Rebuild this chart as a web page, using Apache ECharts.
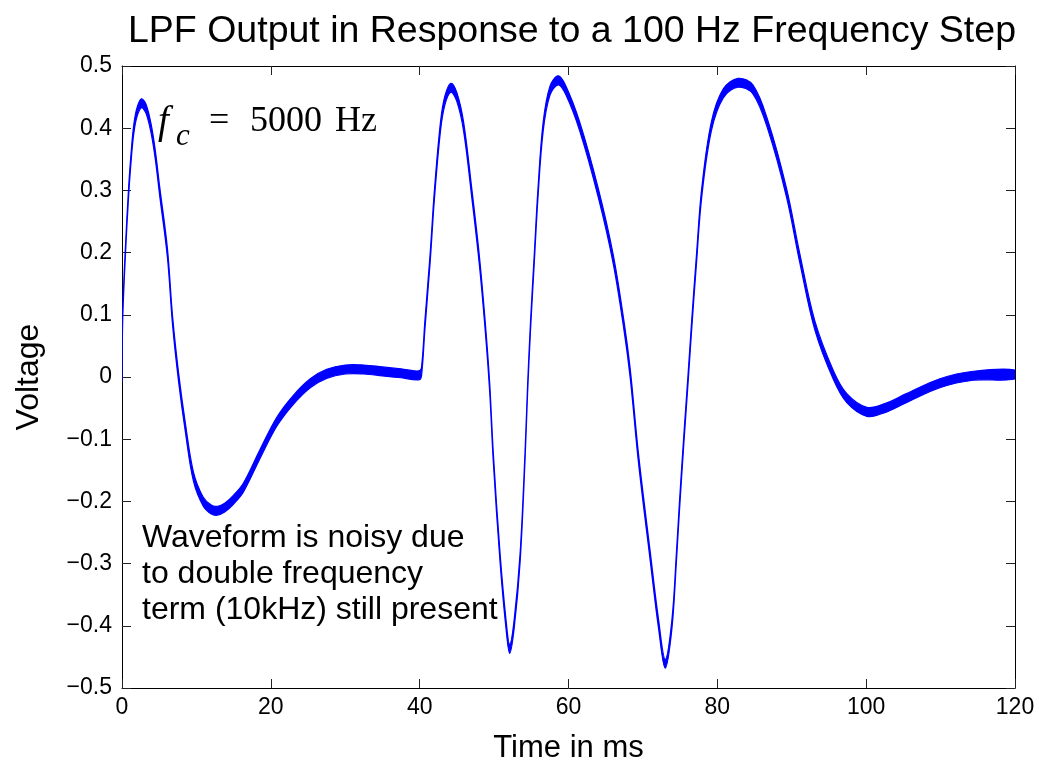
<!DOCTYPE html>
<html><head><meta charset="utf-8">
<script src="https://cdn.jsdelivr.net/npm/echarts@6/dist/echarts.min.js"></script>
<style>html,body{margin:0;padding:0;background:#fff}#c{width:1041px;height:769px}</style>
</head><body><div id="c"></div>
<script>
// Time in ms (x) and voltage (y) (centre of the noisy band)
const timeMs = [0,0.1,0.45,0.9,1.3,1.6,2.0,2.6,3.2,3.9,4.5,5.05,6.1,6.8,7.6,8.5,9.6,10.9,12.0,12.8,13.8,15.0,16.3,18.5,20.8,23.0,25.3,27.5,30.0,32.5,35.0,37.5,40.0,
  40.3,40.7,41.4,42.0,42.8,43.4,44.2,45.0,45.9,47.0,48.0,48.8,49.4,49.9,50.8,51.6,52.1,52.7,53.5,54.15,54.5,54.9,55.4,55.9,56.6,57.5,58.6,59.6,61.5,64.0,66.0,67.45,68.3,69.4,71.0,72.1,73.0,73.9,74.5,74.9,75.5,76.1,76.55,77.2,77.9,79.2,80.8,82.8,84.8,86.85,89.3,91.1,93.1,95.6,97.4,100.1,102.5,105.4,109.9,114.4,120];
const voltage = [0,0.10,0.20,0.30,0.365,0.40,0.425,0.44,0.432,0.40,0.355,0.30,0.20,0.09,0.0,-0.08,-0.16,-0.20,-0.213,-0.215,-0.21,-0.197,-0.178,-0.125,-0.072,-0.037,-0.010,0.005,0.012,0.012,0.009,0.006,0.003,
  0.015,0.083,0.19,0.296,0.403,0.445,0.465,0.45,0.403,0.296,0.19,0.083,-0.015,-0.13,-0.29,-0.397,-0.437,-0.397,-0.29,-0.13,-0.02,0.083,0.19,0.296,0.403,0.46,0.477,0.462,0.403,0.296,0.19,0.083,0.005,-0.13,-0.29,-0.397,-0.461,-0.397,-0.29,-0.21,-0.10,0.003,0.083,0.19,0.296,0.403,0.456,0.473,0.462,0.403,0.296,0.19,0.083,0.003,-0.034,-0.056,-0.05,-0.034,-0.010,0.002,0.004];
// half-height of the 10 kHz ripple band (volts)
const rippleHalfWidth = 0.0072;
const xTickLabels = ['0','20','40','60','80','100','120'];
const yTickLabels = ['\u22120.5','\u22120.4','\u22120.3','\u22120.2','\u22120.1','0','0.1','0.2','0.3','0.4','0.5'];
const titleText = 'LPF Output in Response to a 100 Hz Frequency Step';
const xName = 'Time in ms';
const yName = 'Voltage';
const noteText = 'Waveform is noisy due\nto double frequency\nterm (10kHz) still present';

const SANS = '"Liberation Sans", Arial, Helvetica, sans-serif';
const SERIF = '"Liberation Serif", "Times New Roman", serif';
const BLUE = '#0000ff';

// the noisy trace is drawn as one band polygon: upper edge left→right, lower edge right→left
function renderBand(params, api) {
  if (params.dataIndex !== 0) return null;
  const pts = [];
  for (let i = 0; i < timeMs.length; i++) pts.push(api.coord([timeMs[i], voltage[i] + rippleHalfWidth]));
  for (let i = timeMs.length - 1; i >= 0; i--) pts.push(api.coord([timeMs[i], voltage[i] - rippleHalfWidth]));
  return {
    type: 'polygon',
    shape: {points: pts, smooth: 0.35},
    style: {fill: BLUE, stroke: BLUE, lineWidth: 1.2, lineJoin: 'round'}
  };
}

const chart = echarts.init(document.getElementById('c'), null, {renderer: 'canvas'});
const baseAxisLine = {show: true, onZero: false, lineStyle: {color: '#000', width: 1}};
const baseTick = {show: true, inside: true, length: 9, lineStyle: {color: '#222', width: 1}};
chart.setOption({
  animation: false,
  backgroundColor: '#fff',
  title: {
    text: titleText, left: 567, top: 8, textAlign: 'center',
    textStyle: {fontFamily: SANS, fontSize: 37.5, fontWeight: 'normal', color: '#000'}
  },
  grid: {left: 122, right: 26, top: 66, bottom: 78, containLabel: false},
  xAxis: [{
    type: 'value', min: 0, max: 120, interval: 20, position: 'bottom',
    axisLine: baseAxisLine, axisTick: baseTick, splitLine: {show: false},
    axisLabel: {formatter: (v) => xTickLabels[Math.round(v / 20)], fontFamily: SANS, fontSize: 23, color: '#000', margin: 8},
    name: xName, nameLocation: 'middle', nameGap: 45,
    nameTextStyle: {fontFamily: SANS, fontSize: 31, color: '#000'}
  }, {
    type: 'value', min: 0, max: 120, interval: 20, position: 'top',
    axisLine: baseAxisLine, axisTick: baseTick, splitLine: {show: false}, axisLabel: {show: false}
  }],
  yAxis: [{
    type: 'value', min: -0.5, max: 0.5, interval: 0.1, position: 'left',
    axisLine: baseAxisLine, axisTick: baseTick, splitLine: {show: false},
    axisLabel: {formatter: (v) => yTickLabels[Math.round((v + 0.5) / 0.1)], fontFamily: SANS, fontSize: 23, color: '#000', margin: 10},
    name: yName, nameLocation: 'middle', nameGap: 77,
    nameTextStyle: {fontFamily: SANS, fontSize: 32, color: '#000'}
  }, {
    type: 'value', min: -0.5, max: 0.5, interval: 0.1, position: 'right',
    axisLine: baseAxisLine, axisTick: baseTick, splitLine: {show: false}, axisLabel: {show: false}
  }],
  series: [{
    type: 'custom', name: 'LPF output', renderItem: renderBand,
    data: timeMs.map((t, i) => [t, voltage[i]]),
    encode: {x: 0, y: 1}, clip: true
  }],
  graphic: [
    {type: 'text', left: 158, top: 103, style: {text: 'f', font: 'italic 39px ' + SERIF, fill: '#000'}},
    {type: 'text', left: 176, top: 121, style: {text: 'c', font: 'italic 31px ' + SERIF, fill: '#000'}},
    {type: 'text', left: 209, top: 104, style: {text: '=', font: '36px ' + SERIF, fill: '#000'}},
    {type: 'text', left: 250, top: 104, style: {text: '5000', font: '36px ' + SERIF, fill: '#000'}},
    {type: 'text', left: 335, top: 104, style: {text: 'Hz', font: '36px ' + SERIF, fill: '#000'}},
    {type: 'text', left: 142, top: 520, style: {text: noteText, font: '32px ' + SANS, fill: '#000', lineHeight: 36}}
  ]
});
</script>
</body></html>
